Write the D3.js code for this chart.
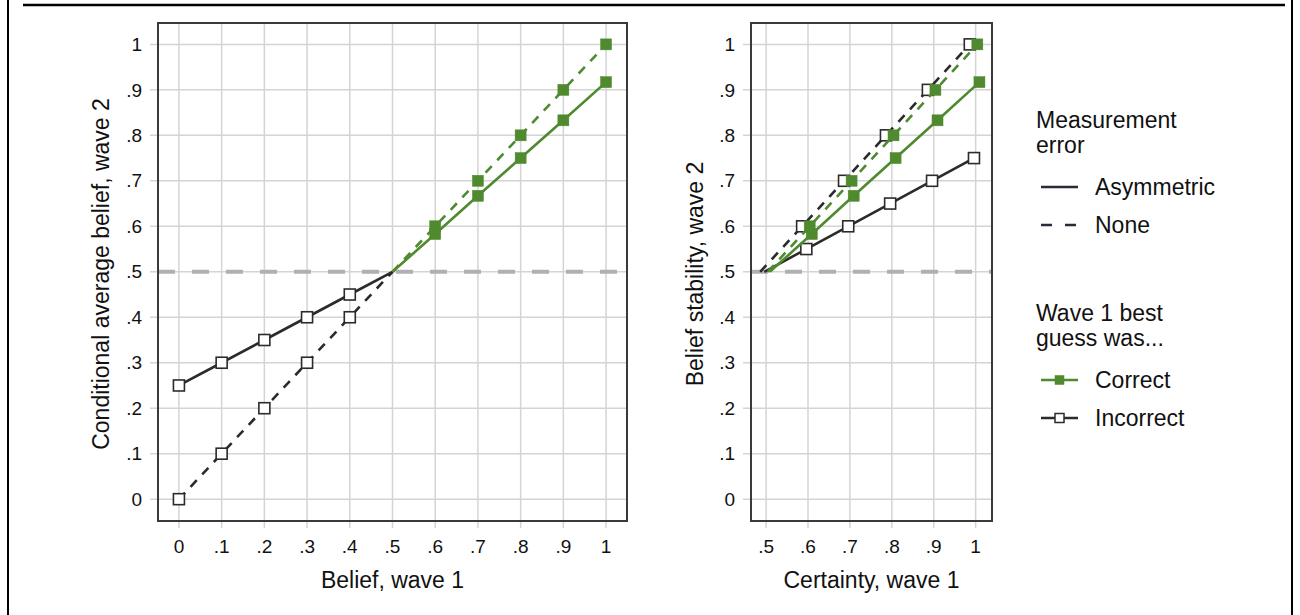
<!DOCTYPE html>
<html>
<head>
<meta charset="utf-8">
<script src="https://cdn.jsdelivr.net/npm/d3@7"></script>
<style>
  body { margin: 0; background: #fff; }
  svg { font-family: "Liberation Sans", Arial, Helvetica, sans-serif; }
</style>
</head>
<body>
<div id="chart"></div>
<script>
// data
var beliefX = [0, .1, .2, .3, .4, .5, .6, .7, .8, .9, 1];
var certaintyX = [.5, .6, .7, .8, .9, 1];

// left panel: conditional average belief, wave 2
var leftIncorrectAsym = [.25, .30, .35, .40, .45, .50];
var leftIncorrectNone = [0, .10, .20, .30, .40, .50];
var leftCorrectAsym = [.50, .583, .667, .75, .833, .917];
var leftCorrectNone = [.50, .60, .70, .80, .90, 1];

// right panel: belief stability, wave 2
var rightIncorrectAsym = [.50, .55, .60, .65, .70, .75];
var rightIncorrectNone = [.50, .60, .70, .80, .90, 1];
var rightCorrectAsym = [.50, .583, .667, .75, .833, .917];
var rightCorrectNone = [.50, .60, .70, .80, .90, 1];

var yTicks = [0, .1, .2, .3, .4, .5, .6, .7, .8, .9, 1];
var legendError = ["Asymmetric", "None"];
var legendGuess = ["Correct", "Incorrect"];

var GREEN = "#4f8a2f";
var DARK = "#2b2b2b";
var fmt = function (v) {
        if (v === 0) return "0";
        if (v === 1) return "1";
        return d3.format(".1f")(v).replace(/^0/, "");
};

var width = 1300, height = 615;
var svg = d3.select("#chart").append("svg")
        .attr("width", width)
        .attr("height", height);

// outer frame bits (cropped figure)
svg.append("line").attr("x1", 8).attr("x2", 8).attr("y1", 0).attr("y2", height)
        .attr("stroke", "#000").attr("stroke-width", 2);
svg.append("line").attr("x1", 1292).attr("x2", 1292).attr("y1", 0).attr("y2", height)
        .attr("stroke", "#000").attr("stroke-width", 2);
svg.append("line").attr("x1", 23).attr("x2", 1285).attr("y1", 5).attr("y2", 5)
        .attr("stroke", "#000").attr("stroke-width", 2.5);

var y = d3.scaleLinear().domain([-0.048, 1.047]).range([521, 23]);

function $each(arr, fn) { for (var i = 0; i < arr.length; i++) fn(arr[i], i); }

function drawPanel(opts) {
        var x = d3.scaleLinear().domain(opts.xDomain).range([opts.left, opts.right]);
        var g = svg.append("g");

        // grid
        g.selectAll(".vgrid").data(opts.xTicks).enter().append("line")
                .attr("x1", function (d) { return x(d); })
                .attr("x2", function (d) { return x(d); })
                .attr("y1", 23).attr("y2", 528)
                .attr("stroke", "#d4d4d4").attr("stroke-width", 1.5);
        g.selectAll(".hgrid").data(yTicks).enter().append("line")
                .attr("x1", opts.left - 8).attr("x2", opts.right)
                .attr("y1", function (d) { return y(d); })
                .attr("y2", function (d) { return y(d); })
                .attr("stroke", "#d4d4d4").attr("stroke-width", 1.5);

        // reference line at .5
        g.append("line")
                .attr("x1", opts.left).attr("x2", opts.right)
                .attr("y1", y(.5)).attr("y2", y(.5))
                .attr("stroke", "#b0b0b0").attr("stroke-width", 4)
                .attr("stroke-dasharray", "17,17");

        // tick labels
        g.selectAll(".ylab").data(yTicks).enter().append("text")
                .attr("x", opts.left - 16)
                .attr("y", function (d) { return y(d); })
                .attr("dy", "0.35em")
                .attr("text-anchor", "end")
                .attr("font-size", 19)
                .attr("fill", "#111")
                .text(fmt);
        g.selectAll(".xlab").data(opts.xTicks).enter().append("text")
                .attr("x", function (d) { return x(d); })
                .attr("y", 553)
                .attr("text-anchor", "middle")
                .attr("font-size", 19)
                .attr("fill", "#111")
                .text(fmt);

        // axis titles
        g.append("text")
                .attr("x", (opts.left + opts.right) / 2)
                .attr("y", 588)
                .attr("text-anchor", "middle")
                .attr("font-size", 23)
                .attr("fill", "#111")
                .text(opts.xTitle);
        g.append("text")
                .attr("transform", "translate(" + opts.yTitleX + "," + 274 + ") rotate(-90)")
                .attr("text-anchor", "middle")
                .attr("font-size", 23)
                .attr("fill", "#111")
                .text(opts.yTitle);

        // series
        $each(opts.series, function (s) {
                var pts = s.xs.map(function (xv, i) { return { x: xv + s.shift, y: s.ys[i], mark: s.marks[i] }; });
                var line = d3.line().x(function (d) { return x(d.x); }).y(function (d) { return y(d.y); });
                g.append("path")
                        .attr("d", line(pts))
                        .attr("fill", "none")
                        .attr("stroke", s.color)
                        .attr("stroke-width", 2.6)
                        .attr("stroke-dasharray", s.dashed ? "9,8" : null);
                g.selectAll(null).data(pts.filter(function (d) { return d.mark; })).enter().append("rect")
                        .attr("x", function (d) { return x(d.x) - 5.5; })
                        .attr("y", function (d) { return y(d.y) - 5.5; })
                        .attr("width", 11).attr("height", 11)
                        .attr("fill", s.filled ? s.color : "#fff")
                        .attr("stroke", s.filled ? s.color : DARK)
                        .attr("stroke-width", s.filled ? 0.5 : 1.6);
        });

        // panel frame
        g.append("rect")
                .attr("x", opts.left).attr("y", 23)
                .attr("width", opts.right - opts.left).attr("height", 521 - 23)
                .attr("fill", "none").attr("stroke", "#3a3a3a").attr("stroke-width", 2);
}

var lowHalf = beliefX.slice(0, 6);
var highHalf = beliefX.slice(5);

drawPanel({
        left: 158, right: 627,
        xDomain: [-0.049, 1.049],
        xTicks: beliefX,
        xTitle: "Belief, wave 1",
        yTitle: "Conditional average belief, wave 2",
        yTitleX: 109,
        series: [
                { xs: lowHalf, ys: leftIncorrectNone, color: DARK, dashed: true, filled: false, shift: 0, marks: [1, 1, 1, 1, 1, 0] },
                { xs: lowHalf, ys: leftIncorrectAsym, color: DARK, dashed: false, filled: false, shift: 0, marks: [1, 1, 1, 1, 1, 0] },
                { xs: highHalf, ys: leftCorrectNone, color: GREEN, dashed: true, filled: true, shift: 0, marks: [0, 1, 1, 1, 1, 1] },
                { xs: highHalf, ys: leftCorrectAsym, color: GREEN, dashed: false, filled: true, shift: 0, marks: [0, 1, 1, 1, 1, 1] }
        ]
});

drawPanel({
        left: 751, right: 992,
        xDomain: [0.464, 1.039],
        xTicks: certaintyX,
        xTitle: "Certainty, wave 1",
        yTitle: "Belief stability, wave 2",
        yTitleX: 703,
        series: [
                { xs: certaintyX, ys: rightIncorrectNone, color: DARK, dashed: true, filled: false, shift: -0.014, marks: [0, 1, 1, 1, 1, 1] },
                { xs: certaintyX, ys: rightIncorrectAsym, color: DARK, dashed: false, filled: false, shift: -0.004, marks: [0, 1, 1, 1, 1, 1] },
                { xs: certaintyX, ys: rightCorrectNone, color: GREEN, dashed: true, filled: true, shift: 0.004, marks: [0, 1, 1, 1, 1, 1] },
                { xs: certaintyX, ys: rightCorrectAsym, color: GREEN, dashed: false, filled: true, shift: 0.009, marks: [0, 1, 1, 1, 1, 1] }
        ]
});

// legend
var lg = svg.append("g").attr("font-size", 23).attr("fill", "#111");
lg.append("text").attr("x", 1036).attr("y", 127.5).text("Measurement");
lg.append("text").attr("x", 1036).attr("y", 153).text("error");
lg.selectAll(".le").data(legendError).enter().append("g")
        .each(function (d, i) {
                var yy = 187 + i * 38;
                var gg = d3.select(this);
                gg.append("line").attr("x1", 1041).attr("x2", 1078).attr("y1", yy).attr("y2", yy)
                        .attr("stroke", "#2a2a38").attr("stroke-width", 2.6)
                        .attr("stroke-dasharray", i === 1 ? "11,13" : null);
                gg.append("text").attr("x", 1095).attr("y", yy).attr("dy", "0.35em").text(d);
        });
lg.append("text").attr("x", 1036).attr("y", 321).text("Wave 1 best");
lg.append("text").attr("x", 1036).attr("y", 346).text("guess was...");
lg.selectAll(".lgg").data(legendGuess).enter().append("g")
        .each(function (d, i) {
                var yy = 380 + i * 38;
                var col = i === 0 ? GREEN : DARK;
                var gg = d3.select(this);
                gg.append("line").attr("x1", 1041).attr("x2", 1078).attr("y1", yy).attr("y2", yy)
                        .attr("stroke", col).attr("stroke-width", 2.6);
                gg.append("rect").attr("x", 1055).attr("y", yy - 4.5).attr("width", 9).attr("height", 9)
                        .attr("fill", i === 0 ? GREEN : "#fff")
                        .attr("stroke", i === 0 ? GREEN : DARK).attr("stroke-width", i === 0 ? 0.5 : 1.5);
                gg.append("text").attr("x", 1095).attr("y", yy).attr("dy", "0.35em").text(d);
        });
</script>
</body>
</html>
